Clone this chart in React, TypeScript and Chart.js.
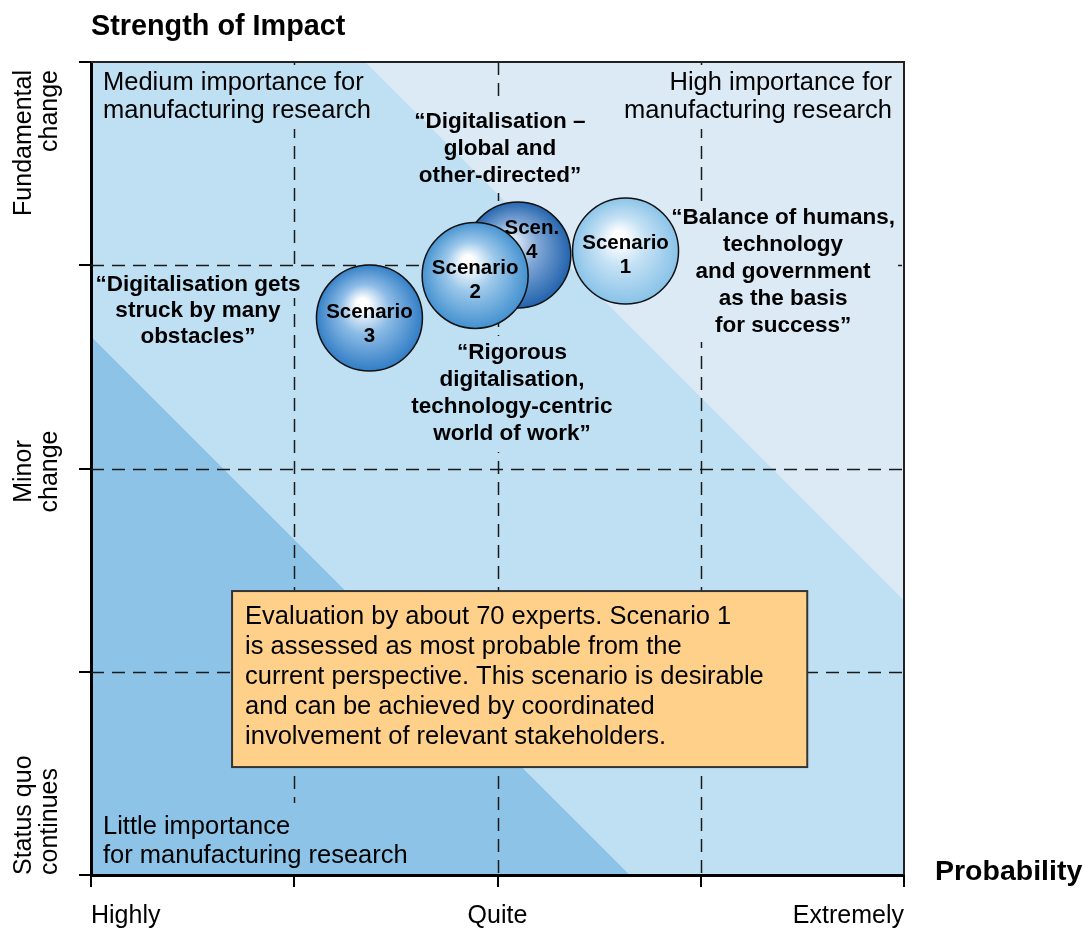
import React, { useEffect, useRef } from 'react';
import { Chart, registerables } from 'chart.js';

Chart.register(...registerables);

const FONT = '"Liberation Sans", Arial, Helvetica, sans-serif';

// ---- axes ----
const chartTitle = 'Strength of Impact';
const axisTitleX = 'Probability';
const probabilityTickLabels = ['Highly', '', 'Quite', '', 'Extremely'];
const impactTickLabels: string[][] = [['Status quo', 'continues'], [], ['Minor', 'change'], [], ['Fundamental', 'change']];

// ---- scenarios ----
const scenarioNames = [['Scenario', '1'], ['Scenario', '2'], ['Scenario', '3'], ['Scen.', '4']];
const scenarioProbability = [2.63, 1.89, 1.37, 2.1];
const scenarioImpact = [3.07, 2.95, 2.74, 3.05];

// ---- importance bands (boundaries where probability + impact = limit) ----
const bandLimits = [2.65, 5.35];

// ---- texts ----
const mediumText = ['Medium importance for', 'manufacturing research'];
const highText = ['High importance for', 'manufacturing research'];
const littleText = ['Little importance', 'for manufacturing research'];
const quoteScenario1 = ['“Balance of humans,', 'technology', 'and government', 'as the basis', 'for success”'];
const quoteScenario2 = ['“Rigorous', 'digitalisation,', 'technology-centric', 'world of work”'];
const quoteScenario3 = ['“Digitalisation gets', 'struck by many', 'obstacles”'];
const quoteScenario4 = ['“Digitalisation –', 'global and', 'other-directed”'];
const noteText = [
  'Evaluation by about 70 experts. Scenario 1',
  'is assessed as most probable from the',
  'current perspective. This scenario is desirable',
  'and can be achieved by coordinated',
  'involvement of relevant stakeholders.',
];

// ---- styles / placement (separate from data) ----
const bandColors = ['#8cc3e6', '#bfe0f3', '#dbeaf5'];
const scenarioEdge = ['#84c0e7', '#3d8dce', '#2b79c3', '#1b5ea9'];
const scenarioMid = ['#c4e1f4', '#9cc8ea', '#8dbce6', '#7fa6d6'];
const scenarioCore = ['#ffffff', '#ffffff', '#ffffff', '#dbe6f4'];
const scenarioStack = [1, 0, 2, 3];
const scenarioLabelShift = [[0, 4], [0, 5], [0, 6], [14, -15]];
const BUBBLE_R = 53;

const REG = `25.5px ${FONT}`;
const NOTE = `25.5px ${FONT}`;
const BOLDQ = `bold 22.5px ${FONT}`;

type Block = { lines: string[]; x: number; y: number; lh: number; align: CanvasTextAlign; font: string; pad: number; block: boolean };
const blockSpecs: Block[] = [
  { lines: mediumText, x: 0.059, y: 3.897, lh: 28, align: 'left', font: REG, pad: 4, block: true },
  { lines: highText, x: 3.941, y: 3.897, lh: 28, align: 'right', font: REG, pad: 4, block: true },
  { lines: littleText, x: 0.059, y: 0.236, lh: 29, align: 'left', font: REG, pad: 10, block: true },
  { lines: quoteScenario1, x: 3.405, y: 3.232, lh: 27, align: 'center', font: BOLDQ, pad: 2, block: true },
  { lines: quoteScenario2, x: 2.071, y: 2.568, lh: 27, align: 'center', font: BOLDQ, pad: 4, block: false },
  { lines: quoteScenario3, x: 0.526, y: 2.903, lh: 26, align: 'center', font: BOLDQ, pad: 0, block: false },
  { lines: quoteScenario4, x: 2.012, y: 3.705, lh: 27, align: 'center', font: BOLDQ, pad: 4, block: false },
];
const noteBox = { x0: 0.694, x1: 3.524, y0: 0.531, y1: 1.397, textX: 0.758, textY: 1.269, lh: 30 };

function bubbleFill(chart: any, i: number) {
  const xs = chart.scales?.x;
  const ys = chart.scales?.y;
  if (!xs || !ys || !chart.chartArea) return scenarioEdge[i];
  const cx = xs.getPixelForValue(scenarioProbability[i]);
  const cy = ys.getPixelForValue(scenarioImpact[i]);
  if (!isFinite(cx) || !isFinite(cy)) return scenarioEdge[i];
  const g = chart.ctx.createRadialGradient(cx - BUBBLE_R * 0.15, cy - BUBBLE_R * 0.3, 0, cx, cy, BUBBLE_R * 1.05);
  g.addColorStop(0, scenarioCore[i]);
  g.addColorStop(0.1, scenarioCore[i]);
  g.addColorStop(0.45, scenarioMid[i]);
  g.addColorStop(1, scenarioEdge[i]);
  return g;
}

function placeBlocks(chart: any) {
  const { x, y } = chart.scales;
  return blockSpecs.map((b) => ({ ...b, px: x.getPixelForValue(b.x), py: y.getPixelForValue(b.y) }));
}

const bandsPlugin = {
  id: 'bands',
  beforeDraw(chart: any) {
    const { ctx, chartArea: a, scales } = chart;
    const { x, y } = scales;
    ctx.save();
    ctx.fillStyle = '#fff';
    ctx.fillRect(0, 0, chart.width, chart.height);
    ctx.beginPath();
    ctx.rect(a.left, a.top, a.right - a.left, a.bottom - a.top);
    ctx.clip();
    ctx.fillStyle = bandColors[2];
    ctx.fillRect(a.left, a.top, a.right - a.left, a.bottom - a.top);
    for (let i = bandLimits.length - 1; i >= 0; i--) {
      const s = bandLimits[i];
      ctx.fillStyle = bandColors[i];
      ctx.beginPath();
      ctx.moveTo(x.getPixelForValue(0), y.getPixelForValue(0));
      ctx.lineTo(x.getPixelForValue(s), y.getPixelForValue(0));
      ctx.lineTo(x.getPixelForValue(0), y.getPixelForValue(s));
      ctx.closePath();
      ctx.fill();
    }
    ctx.restore();
  },
};

const gridPlugin = {
  id: 'dashGrid',
  beforeDatasetsDraw(chart: any) {
    const { ctx, chartArea: a, scales } = chart;
    const { x, y } = scales;
    const off = document.createElement('canvas');
    off.width = chart.width;
    off.height = chart.height;
    const o = off.getContext('2d')!;
    o.strokeStyle = '#1a1a1a';
    o.lineWidth = 1.5;
    o.setLineDash([13, 8]);
    for (const v of [1, 2, 3]) {
      const px = Math.round(x.getPixelForValue(v)) + 0.5;
      o.beginPath();
      o.moveTo(px, a.top);
      o.lineTo(px, a.bottom);
      o.stroke();
      const py = Math.round(y.getPixelForValue(v)) + 0.5;
      o.beginPath();
      o.moveTo(a.left, py);
      o.lineTo(a.right, py);
      o.stroke();
    }
    // text blocks mask the grid
    for (const b of placeBlocks(chart)) {
      o.font = b.font;
      const widths = b.lines.map((l) => o.measureText(l).width);
      const maxW = Math.max(...widths);
      b.lines.forEach((_l, i) => {
        const w = b.block ? maxW : widths[i];
        const left = b.align === 'left' ? b.px : b.align === 'right' ? b.px - w : b.px - w / 2;
        const cy = b.py + i * b.lh;
        o.clearRect(left - 3, cy - b.lh / 2 - b.pad, w + 6, b.lh + 2 * b.pad);
      });
    }
    ctx.drawImage(off, 0, 0, chart.width, chart.height);
  },
};

const overlayPlugin = {
  id: 'overlay',
  afterDatasetsDraw(chart: any) {
    const { ctx, chartArea: a, scales } = chart;
    const { x, y } = scales;
    ctx.save();
    // top & right frame
    ctx.strokeStyle = '#222';
    ctx.lineWidth = 2;
    ctx.beginPath();
    ctx.moveTo(a.left, a.top);
    ctx.lineTo(a.right, a.top);
    ctx.lineTo(a.right, a.bottom);
    ctx.stroke();

    // bubble labels
    ctx.fillStyle = '#000';
    ctx.font = `bold 20.5px ${FONT}`;
    ctx.textAlign = 'center';
    ctx.textBaseline = 'middle';
    chart.data.datasets.forEach((_d: any, i: number) => {
      const el = chart.getDatasetMeta(i).data[0];
      if (!el) return;
      const lines = scenarioNames[i];
      const [dx, dy] = scenarioLabelShift[i];
      lines.forEach((l, k) => {
        ctx.fillText(l, el.x + dx, el.y + dy + (k - (lines.length - 1) / 2) * 24);
      });
    });

    // text blocks
    for (const b of placeBlocks(chart)) {
      ctx.font = b.font;
      ctx.textAlign = b.align;
      ctx.textBaseline = 'middle';
      b.lines.forEach((l, i) => ctx.fillText(l, b.px, b.py + i * b.lh));
    }

    // note box
    const bx0 = x.getPixelForValue(noteBox.x0);
    const bx1 = x.getPixelForValue(noteBox.x1);
    const by0 = y.getPixelForValue(noteBox.y1);
    const by1 = y.getPixelForValue(noteBox.y0);
    ctx.fillStyle = '#ffd08a';
    ctx.fillRect(bx0, by0, bx1 - bx0, by1 - by0);
    ctx.strokeStyle = '#333';
    ctx.lineWidth = 2;
    ctx.strokeRect(bx0, by0, bx1 - bx0, by1 - by0);
    ctx.fillStyle = '#000';
    ctx.font = NOTE;
    ctx.textAlign = 'left';
    const tx = x.getPixelForValue(noteBox.textX);
    const ty = y.getPixelForValue(noteBox.textY);
    noteText.forEach((l, i) => ctx.fillText(l, tx, ty + i * noteBox.lh));
    ctx.restore();
  },
  afterDraw(chart: any) {
    const { ctx, chartArea: a, scales } = chart;
    const { y } = scales;
    ctx.save();
    ctx.fillStyle = '#000';
    // title & x axis title
    ctx.font = `bold 28.8px ${FONT}`;
    ctx.textAlign = 'left';
    ctx.textBaseline = 'middle';
    ctx.fillText(chartTitle, a.left, 27);
    ctx.font = `bold 28.5px ${FONT}`;
    ctx.fillText(axisTitleX, a.right + 31, a.bottom - 3);
    // y tick labels (rotated)
    ctx.font = `25px ${FONT}`;
    ctx.textBaseline = 'alphabetic';
    const baselines = [31, 57];
    impactTickLabels.forEach((lines, v) => {
      if (!lines.length) return;
      let py = y.getPixelForValue(v);
      let align: CanvasTextAlign = 'center';
      if (v === 0) align = 'left';
      else if (v === 4) { align = 'right'; py += 8; }
      else py += 3;
      lines.forEach((l, k) => {
        ctx.save();
        ctx.translate(baselines[k], py);
        ctx.rotate(-Math.PI / 2);
        ctx.textAlign = align;
        ctx.fillText(l, 0, 0);
        ctx.restore();
      });
    });
    ctx.restore();
  },
};

export default function App() {
  const ref = useRef<HTMLCanvasElement>(null);
  useEffect(() => {
    const datasets = scenarioNames.map((n, i) => ({
      label: n.join(' '),
      data: [{ x: scenarioProbability[i], y: scenarioImpact[i] }],
      radius: BUBBLE_R,
      hoverRadius: 0,
      borderWidth: 1.5,
      hoverBorderWidth: 1.5,
      borderColor: '#111',
      backgroundColor: (c: any) => bubbleFill(c.chart, i),
      order: scenarioStack[i],
      clip: false as any,
    }));
    const chart = new Chart(ref.current!, {
      type: 'bubble',
      data: { datasets },
      options: {
        responsive: false,
        animation: false,
        events: [],
        layout: { padding: { top: 62, right: 179, left: 0, bottom: 0 }, autoPadding: false },
        plugins: { legend: { display: false }, tooltip: { enabled: false } },
        scales: {
          x: {
            type: 'linear',
            min: 0,
            max: 4,
            afterFit: (s: any) => { s.height = 53; },
            border: { display: true, width: 3, color: '#000' },
            grid: { drawOnChartArea: false, drawTicks: true, tickLength: 12, lineWidth: 2, tickColor: '#000' },
            ticks: {
              stepSize: 1,
              autoSkip: false,
              maxRotation: 0,
              align: 'inner',
              padding: 14,
              color: '#000',
              font: { family: FONT, size: 25 },
              callback: (v: any) => probabilityTickLabels[v] ?? '',
            },
          },
          y: {
            type: 'linear',
            min: 0,
            max: 4,
            afterFit: (s: any) => { s.width = 91; },
            border: { display: true, width: 3, color: '#000' },
            grid: { drawOnChartArea: false, drawTicks: true, tickLength: 12, lineWidth: 2, tickColor: '#000' },
            ticks: { stepSize: 1, display: false },
          },
        },
      },
      plugins: [bandsPlugin, gridPlugin, overlayPlugin],
    } as any);
    return () => chart.destroy();
  }, []);
  return (
    <div style={{ position: 'fixed', left: 0, top: 0, width: 1083, height: 928, background: '#fff' }}>
      <canvas ref={ref} width={1083} height={928} style={{ display: 'block', width: 1083, height: 928 }} />
    </div>
  );
}
